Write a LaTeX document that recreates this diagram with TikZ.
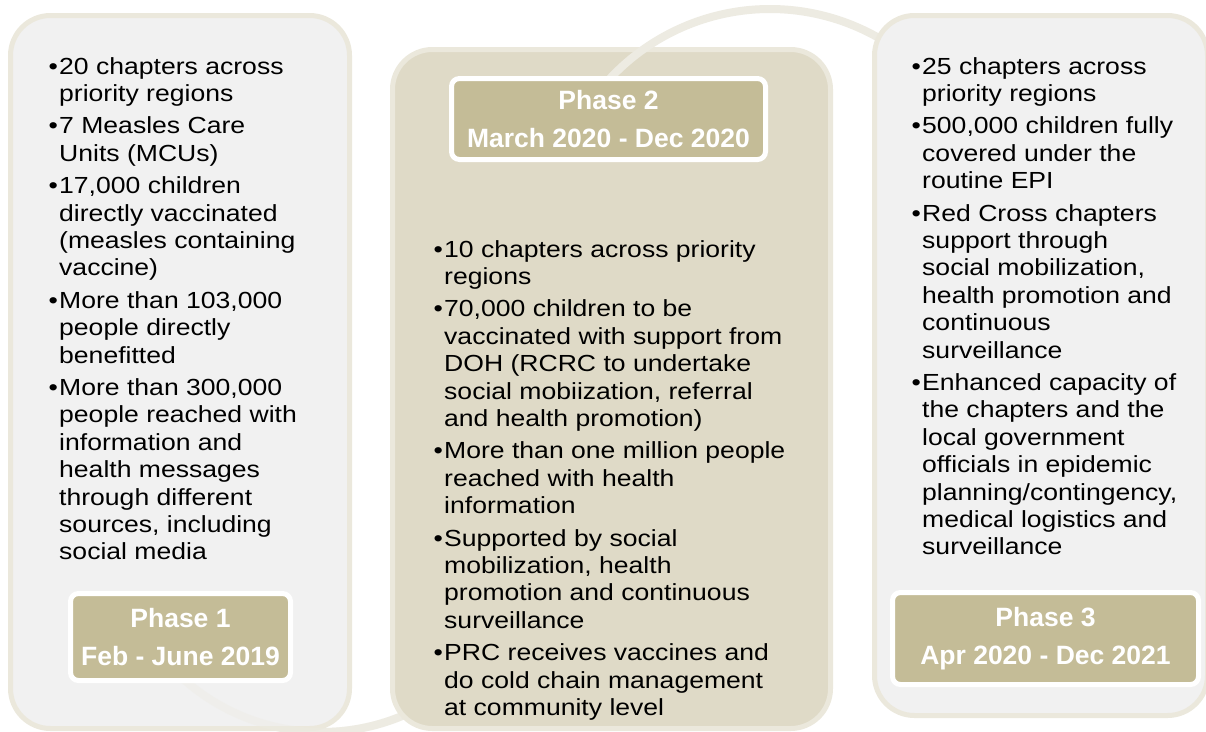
\documentclass[tikz,border=0pt]{standalone}
\usepackage{fontspec}
\setmainfont{Liberation Sans}[FakeStretch=1.14]
\newfontfamily\labfont{Liberation Sans}
\definecolor{boxedge}{HTML}{EBE8DC}
\definecolor{greyfill}{HTML}{F1F1F1}
\definecolor{midfill}{HTML}{DFDAC7}
\definecolor{labfill}{HTML}{C4BC97}
\definecolor{arccol}{HTML}{EDEBE2}
\begin{document}
\begin{tikzpicture}[x=1pt,y=1pt,
  phasebox/.style={rectangle, rounded corners=40pt, draw=boxedge, line width=5pt, inner sep=0pt},
  labbox/.style={rectangle, rounded corners=8pt, draw=white, fill=labfill, line width=5pt, inner sep=0pt,
    text=white, align=center, font=\labfont\bfseries\fontsize{26.5}{38}\selectfont},
  bodytext/.style={anchor=base west, inner sep=0pt, font=\fontsize{23.3}{27.4}\selectfont, text=black},
  arcline/.style={draw=arccol, line width=8pt}]
\useasboundingbox (0,0) rectangle (1206,-731);
\fill[white] (0,0) rectangle (1206,-731);
% lower arc (behind)
\draw[arcline] (322pt,-524pt) ++(215:208pt) arc[start angle=215, end angle=315, radius=208pt];
% boxes
\node[phasebox, fill=greyfill, minimum width=339pt, minimum height=713pt] (p1) at (180,-372) {};
% lower arc seen faintly through the first box
\draw[arcline, draw opacity=0.4] (322pt,-524pt) ++(215:208pt) arc[start angle=215, end angle=315, radius=208pt];
\node[phasebox, fill=midfill, minimum width=438pt, minimum height=679pt] (p2) at (611.5,-389) {};
% upper arc
\draw[arcline] (770pt,-228pt) ++(150:219pt) arc[start angle=150, end angle=45, radius=219pt];
\node[phasebox, fill=greyfill, minimum width=333pt, minimum height=700pt] (p3) at (1041,-365.5) {};
% labels
\node[labbox, minimum width=220pt, minimum height=87pt] (l1) at (180.5,-637) {Phase 1\\Feb - June 2019};
\node[labbox, minimum width=314pt, minimum height=81pt] (l2) at (608.5,-119) {Phase 2\\March 2020 - Dec 2020};
\node[labbox, minimum width=306pt, minimum height=92pt] (l3) at (1045.5,-638.5) {Phase 3\\Apr 2020 - Dec 2021};
% texts
\node[bodytext] (t1) at (48.5,-74) {\begin{tabular}[t]{@{}p{10.5pt}@{}l@{}}
•&20 chapters across\\ &priority regions\\[5pt]
•&7 Measles Care\\ &Units (MCUs)\\[5pt]
•&17,000 children\\ &directly vaccinated\\ &(measles containing\\ &vaccine)\\[5pt]
•&More than 103,000\\ &people directly\\ &benefitted\\[5pt]
•&More than 300,000\\ &people reached with\\ &information and\\ &health messages\\ &through different\\ &sources, including\\ &social media
\end{tabular}};
\node[bodytext] (t2) at (433.5,-257) {\begin{tabular}[t]{@{}p{10.5pt}@{}l@{}}
•&10 chapters across priority\\ &regions\\[5pt]
•&70,000 children to be\\ &vaccinated with support from\\ &DOH (RCRC to undertake\\ &social mobiization, referral\\ &and health promotion)\\[5pt]
•&More than one million people\\ &reached with health\\ &information\\[5pt]
•&Supported by social\\ &mobilization, health\\ &promotion and continuous\\ &surveillance\\[5pt]
•&PRC receives vaccines and\\ &do cold chain management\\ &at community level
\end{tabular}};
\node[bodytext] (t3) at (911.5,-74) {\begin{tabular}[t]{@{}p{10.5pt}@{}l@{}}
•&25 chapters across\\ &priority regions\\[5pt]
•&500,000 children fully\\ &covered under the\\ &routine EPI\\[5pt]
•&Red Cross chapters\\ &support through\\ &social mobilization,\\ &health promotion and\\ &continuous\\ &surveillance\\[5pt]
•&Enhanced capacity of\\ &the chapters and the\\ &local government\\ &officials in epidemic\\ &planning/contingency,\\ &medical logistics and\\ &surveillance
\end{tabular}};
\end{tikzpicture}
\end{document}
